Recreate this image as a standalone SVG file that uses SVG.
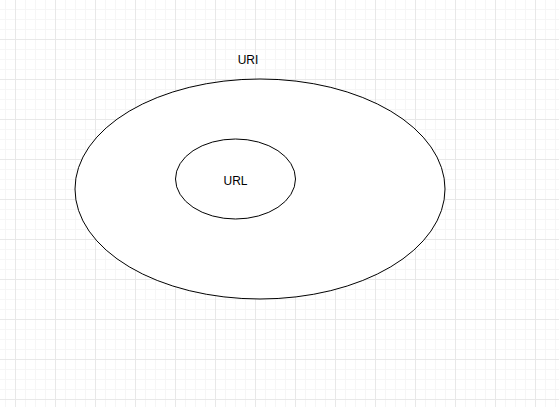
<svg xmlns="http://www.w3.org/2000/svg" width="559" height="407" viewBox="0 0 559 407">
<defs>
<pattern id="minor" width="10" height="10" patternUnits="userSpaceOnUse" x="5" y="9">
<path d="M0.5 0V10M0 0.5H10" fill="none" stroke="#f6f6f6" stroke-width="1"/>
</pattern>
<pattern id="major" width="40" height="40" patternUnits="userSpaceOnUse" x="15" y="39">
<path d="M0.5 0V40M0 0.5H40" fill="none" stroke="#e8e8e8" stroke-width="1"/>
</pattern>
</defs>
<style>
.shape{fill:#ffffff;stroke:#000000;stroke-width:1}
.lbl{font-family:"Liberation Sans",Arial,sans-serif;font-size:12px;fill:#000000;text-anchor:middle}
</style>
<rect width="559" height="407" fill="#ffffff"/>
<rect width="559" height="407" fill="url(#minor)"/>
<rect width="559" height="407" fill="url(#major)"/>
<g id="uri">
<ellipse class="shape" cx="260" cy="189" rx="185" ry="110"/>
<text class="lbl" x="248" y="64">URI</text>
</g>
<g id="url">
<ellipse class="shape" cx="235.5" cy="179" rx="60" ry="40"/>
<text class="lbl" x="235.5" y="185">URL</text>
</g>
<g id="connectors"></g>
</svg>
